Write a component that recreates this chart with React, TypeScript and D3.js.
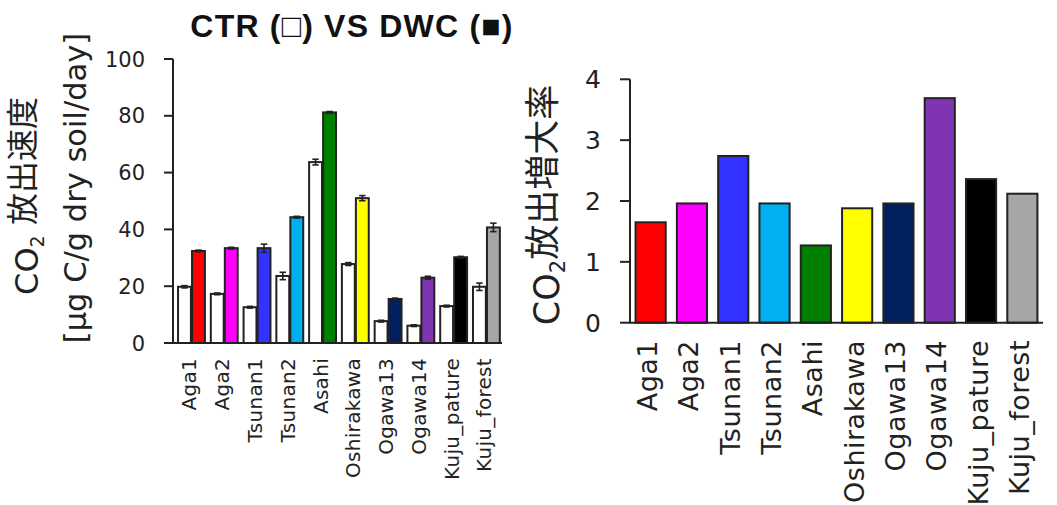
import React from "react";
import * as d3 from "d3";

// Sites shared by both panels
const categories = [
  "Aga1",
  "Aga2",
  "Tsunan1",
  "Tsunan2",
  "Asahi",
  "Oshirakawa",
  "Ogawa13",
  "Ogawa14",
  "Kuju_pature",
  "Kuju_forest",
];

// Left panel: CO2 release rate [μg C/g dry soil/day]
const ctrValues = [19.8, 17.3, 12.6, 23.6, 63.7, 27.8, 7.7, 6.1, 13.0, 19.8];
const ctrErrors = [0.4, 0.3, 0.3, 1.3, 1.0, 0.5, 0.3, 0.3, 0.3, 1.3];
const dwcValues = [32.4, 33.4, 33.4, 44.3, 81.2, 51.0, 15.5, 23.0, 30.2, 40.7];
const dwcErrors = [0.3, 0.3, 1.4, 0.3, 0.3, 0.9, 0.3, 0.5, 0.3, 1.5];

// Right panel: CO2 release increase ratio (DWC / CTR)
const ratioValues = [1.65, 1.96, 2.74, 1.96, 1.27, 1.88, 1.96, 3.69, 2.36, 2.12];

const siteColors = [
  "#FF0000",
  "#FF00FF",
  "#3333FF",
  "#00B0F0",
  "#008000",
  "#FFFF00",
  "#002060",
  "#7F35B2",
  "#000000",
  "#A6A6A6",
];

const leftTicks = [0, 20, 40, 60, 80, 100];
const rightTicks = [0, 1, 2, 3, 4];
const treatments = ["CTR", "DWC"];

const LABEL = "'DejaVu Sans', Verdana, sans-serif";
const TITLE = "'Liberation Sans', Arial, 'Noto Sans CJK JP', sans-serif";
const YTITLE = "'DejaVu Sans', 'Noto Sans CJK JP', sans-serif";
const AXIS = "#222";

export default function App() {
  // ----- left panel scales -----
  const yL = d3.scaleLinear().domain([0, 100]).range([343, 59]);
  const xL = d3
    .scaleBand<string>()
    .domain(categories)
    .range([173, 502])
    .paddingInner(0.18)
    .paddingOuter(0.11)
    .align(0.7);
  const xSub = d3
    .scaleBand<string>()
    .domain(treatments)
    .range([0, xL.bandwidth()])
    .paddingInner(0.08);

  // ----- right panel scales -----
  const yR = d3.scaleLinear().domain([0, 4]).range([322.7, 79.3]);
  const xR = d3
    .scaleBand<string>()
    .domain(categories)
    .range([630, 1043])
    .paddingInner(0.27)
    .paddingOuter(0.135);

  const errBar = (cx: number, v: number, e: number, w: number, key: string) => {
    const top = yL(v + e);
    const bot = yL(v - e);
    const cw = w * 0.5;
    return (
      <g key={key} stroke={AXIS} strokeWidth={1.6}>
        <line x1={cx} x2={cx} y1={top} y2={bot} />
        <line x1={cx - cw / 2} x2={cx + cw / 2} y1={top} y2={top} />
        <line x1={cx - cw / 2} x2={cx + cw / 2} y1={bot} y2={bot} />
      </g>
    );
  };

  return (
    <svg
      width={1057}
      height={505}
      style={{ position: "absolute", left: 0, top: 0, background: "#fff" }}
    >
      {/* Title */}
      <text
        x={352}
        y={37}
        textAnchor="middle"
        fontFamily={TITLE}
        fontWeight="bold"
        fontSize={32}
        letterSpacing={1.2}
        fill="#111"
      >
        CTR (□) VS DWC (■)
      </text>

      {/* ================= Left panel ================= */}
      {categories.map((c, i) => {
        const x0 = xL(c)!;
        const wC = xSub.bandwidth();
        const xc = x0 + xSub("CTR")!;
        const xd = x0 + xSub("DWC")!;
        return (
          <g key={c}>
            <rect
              x={xc}
              y={yL(ctrValues[i])}
              width={wC}
              height={yL(0) - yL(ctrValues[i])}
              fill="#fff"
              stroke={AXIS}
              strokeWidth={2}
            />
            {errBar(xc + wC / 2, ctrValues[i], ctrErrors[i], wC, "ce" + c)}
            <rect
              x={xd}
              y={yL(dwcValues[i])}
              width={wC}
              height={yL(0) - yL(dwcValues[i])}
              fill={siteColors[i]}
              stroke={AXIS}
              strokeWidth={2}
            />
            {errBar(xd + wC / 2, dwcValues[i], dwcErrors[i], wC, "de" + c)}
          </g>
        );
      })}

      {/* left axes */}
      <line x1={173} x2={173} y1={yL(100)} y2={yL(0)} stroke={AXIS} strokeWidth={2} />
      <line x1={172} x2={502} y1={yL(0)} y2={yL(0)} stroke={AXIS} strokeWidth={2} />
      {leftTicks.map((t) => (
        <g key={"lt" + t}>
          <line x1={164} x2={173} y1={yL(t)} y2={yL(t)} stroke={AXIS} strokeWidth={2} />
          <text
            x={145}
            y={yL(t)}
            dy="0.36em"
            textAnchor="end"
            fontFamily={LABEL}
            fontSize={21}
            fill="#222"
          >
            {t}
          </text>
        </g>
      ))}
      {categories.map((c) => (
        <text
          key={"lx" + c}
          transform={`translate(${xL(c)! + xL.bandwidth() / 2 - 2},358) rotate(-90)`}
          dy="0.35em"
          textAnchor="end"
          fontFamily={LABEL}
          fontSize={20}
          letterSpacing={0.3}
          fill="#222"
        >
          {c}
        </text>
      ))}

      {/* left y title */}
      <text
        transform="translate(38,196) rotate(-90)"
        textAnchor="middle"
        fontFamily={YTITLE}
        fontSize={32}
        fill="#222"
      >
        CO
        <tspan fontSize={19} dy="0.3em">2</tspan>
        <tspan dy="-0.3em"> 放出速度</tspan>
      </text>
      <text
        transform="translate(86,188) rotate(-90)"
        textAnchor="middle"
        fontFamily={YTITLE}
        fontSize={30.5}
        fill="#222"
      >
        [μg C/g dry soil/day]
      </text>

      {/* ================= Right panel ================= */}
      {categories.map((c, i) => (
        <rect
          key={"rb" + c}
          x={xR(c)!}
          y={yR(ratioValues[i])}
          width={xR.bandwidth()}
          height={yR(0) - yR(ratioValues[i])}
          fill={siteColors[i]}
          stroke={AXIS}
          strokeWidth={2}
        />
      ))}
      <line x1={630} x2={630} y1={yR(4)} y2={yR(0)} stroke={AXIS} strokeWidth={2} />
      <line x1={629} x2={1043} y1={yR(0)} y2={yR(0)} stroke={AXIS} strokeWidth={2} />
      {rightTicks.map((t) => (
        <g key={"rt" + t}>
          <line x1={620} x2={630} y1={yR(t)} y2={yR(t)} stroke={AXIS} strokeWidth={2} />
          <text
            x={601}
            y={yR(t)}
            dy="0.36em"
            textAnchor="end"
            fontFamily={LABEL}
            fontSize={25}
            fill="#222"
          >
            {t}
          </text>
        </g>
      ))}
      {categories.map((c) => (
        <text
          key={"rx" + c}
          transform={`translate(${xR(c)! + xR.bandwidth() / 2 - 3},340) rotate(-90)`}
          dy="0.35em"
          textAnchor="end"
          fontFamily={LABEL}
          fontSize={27}
          letterSpacing={0.5}
          fill="#222"
        >
          {c}
        </text>
      ))}

      {/* right y title */}
      <text
        transform="translate(559,205) rotate(-90)"
        textAnchor="middle"
        fontFamily={YTITLE}
        fontSize={35}
        fill="#222"
      >
        CO
        <tspan fontSize={21} dy="0.3em">2</tspan>
        <tspan dy="-0.3em">放出増大率</tspan>
      </text>
    </svg>
  );
}
